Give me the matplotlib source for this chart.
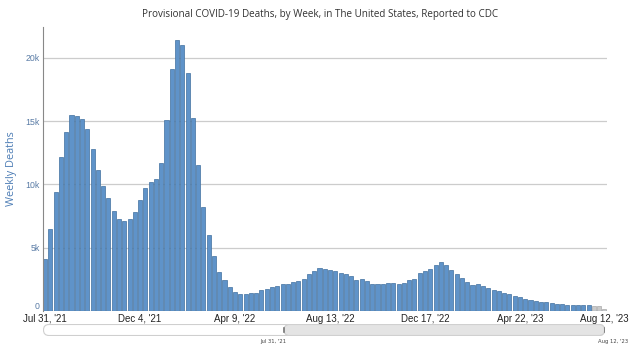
import numpy as np
import pandas as pd
import matplotlib
matplotlib.use("Agg")
import matplotlib.pyplot as plt
from matplotlib.patches import FancyBboxPatch

# weekly deaths, week ending Jul 31 '21 ... Aug 12 '23
deaths = [
    4100, 6450, 9400, 12150, 14150, 15480, 15400, 15200, 14350, 12800,
    11130, 9850, 8900, 7920, 7260, 7100, 7260, 7840, 8760, 9710,
    10210, 10420, 11660, 15080, 19130, 21370, 20970, 18760, 15260, 11530,
    8240, 6000, 4370, 3050, 2450, 1870, 1500, 1370, 1320, 1390,
    1390, 1630, 1710, 1865, 1950, 2120, 2170, 2290, 2395, 2555,
    2910, 3190, 3360, 3325, 3245, 3140, 3005, 2900, 2765, 2475,
    2500, 2340, 2155, 2130, 2155, 2210, 2210, 2155, 2210, 2450,
    2555, 3005, 3140, 3300, 3645, 3870, 3670, 3230, 2900, 2605,
    2315, 2075, 2130, 1940, 1780, 1675, 1595, 1385, 1305, 1170,
    1145, 960, 850, 770, 720, 690, 610, 560, 530, 505,
    455, 455, 455, 455, 400, 400, 185,
]
n_incomplete = 3  # last weeks drawn grey (incomplete reporting)

weeks = pd.date_range("2021-07-31", periods=len(deaths), freq="7D")
tick_dates = pd.to_datetime(["2021-07-31", "2021-12-04", "2022-04-09", "2022-08-13",
                             "2022-12-17", "2023-04-22", "2023-08-12"])
tick_labels = ["Jul 31, '21", "Dec 4, '21", "Apr 9, '22", "Aug 13, '22",
               "Dec 17, '22", "Apr 22, '23", "Aug 12, '23"]
y_ticks = [0, 5000, 10000, 15000, 20000]
y_labels = ["0", "5k", "10k", "15k", "20k"]

W, H = 634, 350
fig = plt.figure(figsize=(W / 100, H / 100), dpi=100)
left, right, bottom, top = 42.5, 607, 311, 27
ax = fig.add_axes([left / W, 1 - bottom / H, (right - left) / W, (bottom - top) / H])

colors = ["#5f93c9"] * (len(deaths) - n_incomplete) + ["#cacaca"] * n_incomplete
edges = ["#40709f"] * (len(deaths) - n_incomplete) + ["#aaaaaa"] * n_incomplete
ax.bar(weeks, deaths, width=5.4, color=colors, edgecolor=edges, linewidth=0.5, zorder=2)

ax.set_xlim(weeks[0] - pd.Timedelta(days=3.5), weeks[-1] + pd.Timedelta(days=3.5))
ax.set_ylim(0, 22430)
ax.set_yticks(y_ticks)
ax.set_yticklabels(y_labels, fontsize=6.3, color="#5a7ca6", family="Liberation Sans")
ax.get_yticklabels()[0].set_va("bottom")
ax.set_xticks(tick_dates)
ax.set_xticklabels(tick_labels, fontsize=7, color="#222222", family="Liberation Sans")
ax.tick_params(axis="x", length=0, pad=2)
ax.tick_params(axis="y", length=0, pad=2)
ax.grid(axis="y", color="#cccccc", linewidth=0.9, zorder=0)
for s in ["top", "right", "bottom"]:
    ax.spines[s].set_visible(False)
ax.spines["left"].set_color("#888888")
ax.spines["left"].set_linewidth(0.8)
ax.axhline(0, color="#40709f", linewidth=0.8, zorder=3)

ax.set_ylabel("Weekly Deaths", fontsize=7.8, color="#4d7db5", family="Open Sans", labelpad=6)
fig.text(320 / W, 1 - 15 / H, "Provisional COVID-19 Deaths, by Week, in The United States, Reported to CDC",
         ha="center", va="center", fontsize=7.1, color="#333333", family="Open Sans")

# range slider strip under the axis
sl = fig.add_axes([43 / W, 1 - 336 / H, (605 - 43) / W, 12 / H])
sl.set_xlim(0, 562)
sl.set_ylim(0, 12)
sl.axis("off")
sl.add_patch(FancyBboxPatch((0.5, 0.5), 561, 11, boxstyle="round,pad=0,rounding_size=5.5",
                            facecolor="white", edgecolor="#cfcfcf", linewidth=0.8))
sl.add_patch(FancyBboxPatch((241, 0.5), 320.5, 11, boxstyle="round,pad=0,rounding_size=5.5",
                            facecolor="#e4e4e4", edgecolor="#d0d0d0", linewidth=0.8))
sl.plot([241, 241], [4, 8], color="#777777", linewidth=1.2)
sl.plot([561.5, 561.5], [4, 8], color="#777777", linewidth=1.2)
fig.text(273 / W, 1 - 342 / H, "Jul 31, '21", ha="center", va="center", fontsize=3.8, color="#444444")
fig.text(613 / W, 1 - 342 / H, "Aug 12, '23", ha="center", va="center", fontsize=3.8, color="#444444")

fig.savefig("out.png", dpi=100)
